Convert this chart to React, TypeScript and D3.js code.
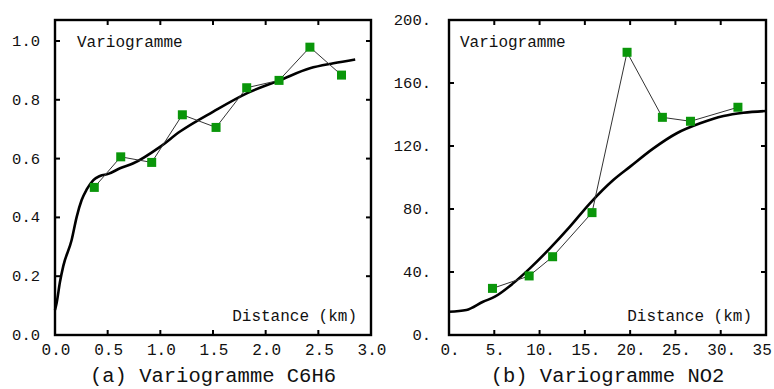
import React from "react";
import * as d3 from "d3";

// ---- Panel (a) C6H6 ----
const aX = [0.373, 0.624, 0.918, 1.209, 1.529, 1.82, 2.127, 2.42, 2.72];
const aY = [0.502, 0.606, 0.587, 0.749, 0.706, 0.841, 0.866, 0.979, 0.884];
const aModelX = [0.0, 0.016, 0.047, 0.079, 0.158, 0.206, 0.253, 0.301, 0.364, 0.427, 0.506, 0.617, 0.744, 0.997, 1.187, 1.503, 1.82, 2.137, 2.42, 2.643, 2.85];
const aModelY = [0.085, 0.11, 0.18, 0.235, 0.323, 0.402, 0.459, 0.495, 0.527, 0.541, 0.548, 0.567, 0.584, 0.64, 0.692, 0.76, 0.822, 0.867, 0.907, 0.924, 0.937];
const aXTicks = [0, 0.5, 1, 1.5, 2, 2.5, 3];
const aXLabels = ["0.0", "0.5", "1.0", "1.5", "2.0", "2.5", "3.0"];
const aYTicks = [0, 0.2, 0.4, 0.6, 0.8, 1.0];
const aYLabels = ["0.0", "0.2", "0.4", "0.6", "0.8", "1.0"];

// ---- Panel (b) NO2 ----
const bX = [4.8, 8.85, 11.44, 15.79, 19.66, 23.56, 26.66, 31.9];
const bY = [29.6, 37.5, 49.7, 77.7, 179.5, 138.2, 135.7, 144.6];
const bModelX = [0, 1.92, 3.76, 5.06, 7.08, 8.93, 11.14, 13.35, 15.56, 18.14, 20.0, 22.57, 25.15, 27.73, 30.31, 32.5, 35];
const bModelY = [14.8, 15.9, 21.1, 24.3, 32.8, 42.3, 55.0, 68.8, 83.6, 98.4, 106.9, 118.5, 128.1, 134.4, 139.0, 141.1, 142.2];
const bXTicks = [0, 5, 10, 15, 20, 25, 30, 35];
const bXLabels = ["0.", "5.", "10.", "15.", "20.", "25.", "30.", "35."];
const bYTicks = [0, 40, 80, 120, 160, 200];
const bYLabels = ["0.", "40.", "80.", "120.", "160.", "200."];

const FONT = "'Liberation Mono', 'DejaVu Sans Mono', monospace";

type PanelProps = {
  left: number;
  right: number;
  xDomain: [number, number];
  yDomain: [number, number];
  xs: number[];
  ys: number[];
  mx: number[];
  my: number[];
  xTicks: number[];
  xLabels: string[];
  yTicks: number[];
  yLabels: string[];
  caption: string;
  varLabelDx: number;
  distRight: number;
  yLabelGap: number;
};

function Panel(p: PanelProps) {
  const top = 20;
  const bottom = 335;
  const x = d3.scaleLinear().domain(p.xDomain).range([p.left, p.right]);
  const y = d3.scaleLinear().domain(p.yDomain).range([bottom, top]);
  const line = d3
    .line<[number, number]>()
    .x((d) => x(d[0]))
    .y((d) => y(d[1]));
  const model = d3
    .line<[number, number]>()
    .x((d) => x(d[0]))
    .y((d) => y(d[1]))
    .curve(d3.curveMonotoneX);
  const pts: [number, number][] = p.xs.map((v, i) => [v, p.ys[i]]);
  const mpts: [number, number][] = p.mx.map((v, i) => [v, p.my[i]]);
  const tl = 5;
  const innerX = p.xTicks.filter((t) => t > p.xDomain[0] && t < p.xDomain[1]);
  const innerY = p.yTicks.filter((t) => t > p.yDomain[0] && y(t) > top + 1);
  const ms = 9;
  return (
    <g>
      <path d={model(mpts) || ""} fill="none" stroke="#000" strokeWidth={2.6} />
      <path d={line(pts) || ""} fill="none" stroke="#333" strokeWidth={1} />
      {pts.map((d, i) => (
        <rect
          key={i}
          x={x(d[0]) - ms / 2}
          y={y(d[1]) - ms / 2}
          width={ms}
          height={ms}
          fill="#0a960a"
        />
      ))}
      <rect
        x={p.left}
        y={top}
        width={p.right - p.left}
        height={bottom - top}
        fill="none"
        stroke="#000"
        strokeWidth={2.4}
      />
      {innerX.map((t, i) => (
        <g key={"xt" + i}>
          <line x1={x(t)} x2={x(t)} y1={bottom} y2={bottom - tl} stroke="#000" strokeWidth={2} />
          <line x1={x(t)} x2={x(t)} y1={top} y2={top + tl} stroke="#000" strokeWidth={2} />
        </g>
      ))}
      {innerY.map((t, i) => (
        <g key={"yt" + i}>
          <line x1={p.left} x2={p.left + tl} y1={y(t)} y2={y(t)} stroke="#000" strokeWidth={2} />
          <line x1={p.right} x2={p.right - tl} y1={y(t)} y2={y(t)} stroke="#000" strokeWidth={2} />
        </g>
      ))}
      {p.xTicks.map((t, i) => (
        <text
          key={"xl" + i}
          x={x(t) + 1}
          y={355}
          textAnchor="middle"
          fontFamily={FONT}
          fontSize={16}
          fill="#111"
        >
          {p.xLabels[i]}
        </text>
      ))}
      {p.yTicks.map((t, i) => (
        <text
          key={"yl" + i}
          x={p.left - p.yLabelGap}
          y={y(t) + 5}
          textAnchor="end"
          fontFamily={FONT}
          fontSize={15.5}
          fill="#111"
        >
          {p.yLabels[i]}
        </text>
      ))}
      <text x={p.left + p.varLabelDx} y={47} fontFamily={FONT} fontSize={16} fill="#111">
        Variogramme
      </text>
      <text
        x={p.right - p.distRight}
        y={321}
        textAnchor="end"
        fontFamily={FONT}
        fontSize={16}
        fill="#111"
      >
        Distance (km)
      </text>
      <text
        x={(p.left + p.right) / 2}
        y={382}
        textAnchor="middle"
        fontFamily={FONT}
        fontSize={20.5}
        fill="#111"
      >
        {p.caption}
      </text>
    </g>
  );
}

export default function App() {
  return (
    <svg
      width={774}
      height={389}
      style={{ position: "absolute", left: 0, top: 0, background: "#fff" }}
    >
      <rect x={0} y={0} width={774} height={389} fill="#fff" />
      <Panel
        left={55}
        right={371}
        xDomain={[0, 3]}
        yDomain={[0, 1.0714]}
        xs={aX}
        ys={aY}
        mx={aModelX}
        my={aModelY}
        xTicks={aXTicks}
        xLabels={aXLabels}
        yTicks={aYTicks}
        yLabels={aYLabels}
        caption="(a) Variogramme C6H6"
        varLabelDx={22}
        distRight={14}
        yLabelGap={15}
      />
      <Panel
        left={449}
        right={766}
        xDomain={[0, 35]}
        yDomain={[0, 200]}
        xs={bX}
        ys={bY}
        mx={bModelX}
        my={bModelY}
        xTicks={bXTicks}
        xLabels={bXLabels}
        yTicks={bYTicks}
        yLabels={bYLabels}
        caption="(b) Variogramme NO2"
        varLabelDx={11}
        distRight={14}
        yLabelGap={18}
      />
    </svg>
  );
}
